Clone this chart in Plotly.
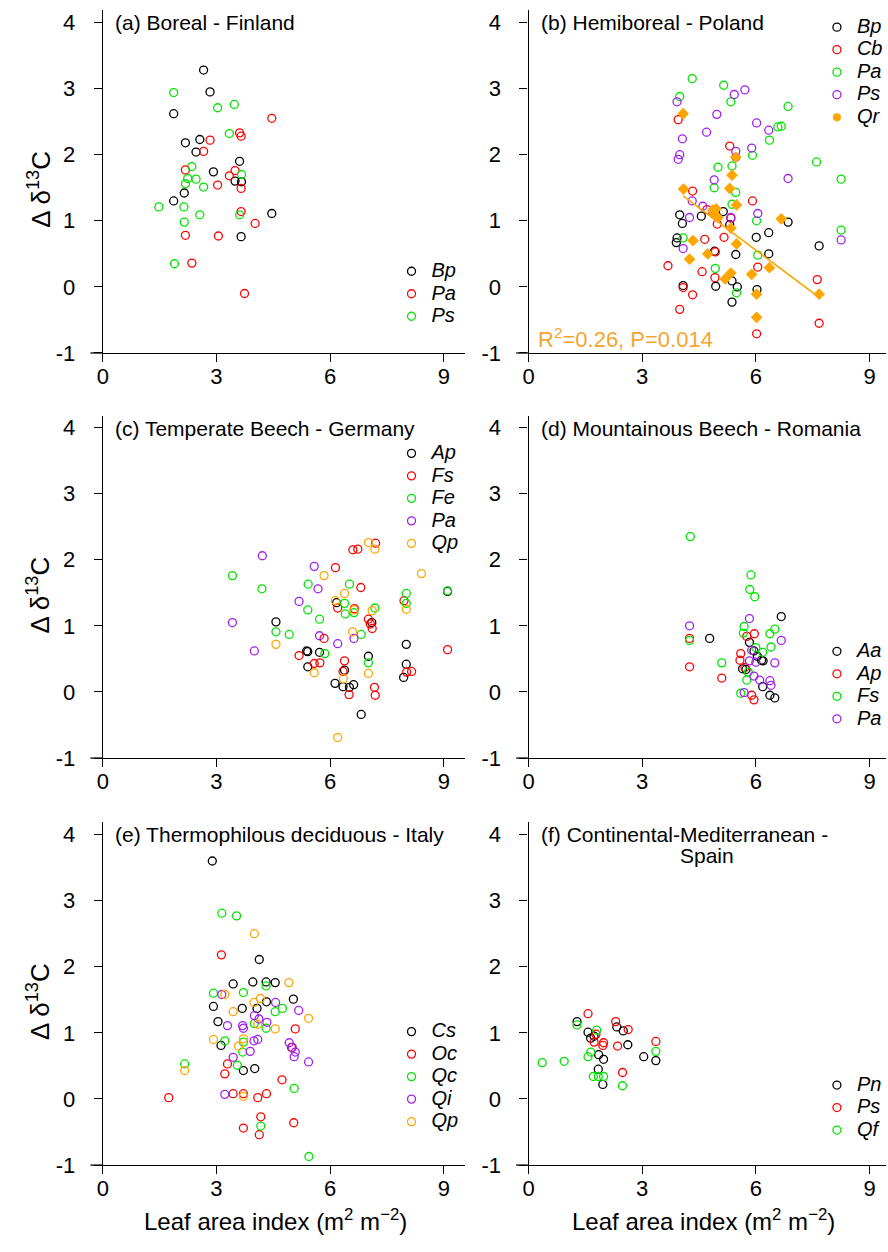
import numpy as np
import plotly.graph_objects as go

W, H = 888, 1252
FONT = "Liberation Sans, Arial, sans-serif"

BLACK = "#000000"
RED = "#FF0000"
GREEN = "#00E400"
PURPLE = "#A020F0"
ORANGE = "#FFA500"

# ---------------- data ----------------
# (a) Boreal - Finland
a_bp_x = [2.66, 2.83, 1.87, 2.18, 2.56, 2.46, 2.92, 3.61, 3.49, 3.66, 2.15, 1.87, 4.46, 3.65]
a_bp_y = [3.28, 2.95, 2.62, 2.18, 2.23, 2.04, 1.74, 1.90, 1.60, 1.59, 1.42, 1.30, 1.11, 0.76]
a_pa_x = [4.46, 3.61, 3.65, 2.83, 2.66, 2.18, 3.49, 3.34, 3.03, 3.65, 3.65, 4.02, 2.18, 3.05, 2.35, 3.74]
a_pa_y = [2.55, 2.33, 2.28, 2.22, 2.05, 1.77, 1.76, 1.68, 1.54, 1.49, 1.14, 0.96, 0.78, 0.77, 0.36, -0.10]
a_ps_x = [1.87, 3.47, 3.03, 3.34, 2.35, 3.66, 2.46, 2.24, 2.18, 2.66, 1.48, 2.14, 2.56, 3.61, 2.15, 1.89]
a_ps_y = [2.94, 2.76, 2.71, 2.32, 1.82, 1.70, 1.63, 1.64, 1.56, 1.51, 1.21, 1.21, 1.09, 1.09, 0.98, 0.35]

# (b) Hemiboreal - Poland
b_bp_x = [3.99, 4.06, 3.92, 3.90, 4.08, 4.56, 5.14, 5.31, 4.91, 5.47, 6.01, 6.34, 6.34, 6.85, 7.67, 4.94, 5.37, 5.51, 6.03, 5.37]
b_bp_y = [1.09, 0.96, 0.74, 0.67, 0.02, 1.07, 1.14, 0.94, 0.54, 0.49, 0.75, 0.82, 0.50, 0.98, 0.62, 0.01, 0.09, 0.00, -0.04, -0.23]
b_cb_x = [3.95, 5.31, 4.33, 5.91, 4.71, 4.98, 5.16, 4.65, 5.34, 4.93, 3.68, 4.58, 4.92, 6.05, 4.08, 4.33, 3.99, 6.02, 7.62, 7.67]
b_cb_y = [2.53, 2.13, 1.45, 1.30, 1.17, 0.95, 0.75, 0.72, 1.04, 0.53, 0.32, 0.23, 0.14, 0.30, -0.01, -0.12, -0.34, -0.71, 0.11, -0.55]
b_pa_x = [4.32, 3.99, 5.15, 5.34, 6.85, 6.58, 6.67, 6.36, 5.91, 5.00, 5.37, 7.60, 8.25, 4.90, 5.47, 5.37, 6.02, 4.08, 8.25, 6.05, 4.93, 5.49]
b_pa_y = [3.15, 2.88, 3.05, 2.80, 2.73, 2.42, 2.43, 2.22, 1.99, 1.81, 1.83, 1.89, 1.63, 1.50, 1.43, 1.25, 1.00, 0.74, 0.86, 0.48, 0.28, -0.09]
b_ps_x = [3.92, 5.43, 5.71, 4.97, 4.70, 6.02, 6.34, 4.06, 3.99, 3.95, 5.89, 5.47, 5.47, 4.90, 6.85, 4.32, 4.60, 4.25, 5.34, 6.05, 4.08, 8.25]
b_ps_y = [2.80, 2.91, 2.98, 2.61, 2.34, 2.48, 2.37, 2.24, 2.00, 1.93, 2.10, 2.05, 1.96, 1.62, 1.64, 1.30, 1.22, 1.05, 1.05, 1.11, 0.58, 0.71]
b_qr_x = [4.08, 4.09, 5.37, 5.31, 5.49, 5.47, 4.86, 4.95, 4.90, 5.00, 5.34, 5.49, 4.34, 6.67, 4.25, 4.73, 6.36, 5.89, 5.34, 5.19, 6.02, 7.67, 6.02]
b_qr_y = [2.62, 1.48, 1.69, 1.49, 1.24, 1.96, 1.16, 1.18, 1.09, 1.05, 0.89, 0.65, 0.70, 1.03, 0.42, 0.50, 0.29, 0.19, 0.21, 0.12, -0.11, -0.11, -0.46]
b_qr_r2 = 0.26
b_qr_p = 0.014

# (c) Temperate Beech - Germany
c_ap_x = [4.57, 5.41, 5.38, 5.72, 5.41, 6.17, 6.13, 6.38, 6.34, 6.51, 6.62, 7.01, 7.10, 6.82, 8.01, 8.01, 7.94, 9.10]
c_ap_y = [1.06, 0.61, 0.62, 0.60, 0.38, 1.35, 0.13, 0.33, 0.08, 0.07, 0.11, 0.54, 1.05, -0.34, 0.72, 0.42, 0.22, 1.52]
c_fs_x = [6.60, 6.73, 7.20, 6.14, 6.81, 6.20, 6.64, 7.95, 7.01, 7.06, 7.11, 5.84, 5.18, 5.58, 5.73, 6.38, 6.34, 6.50, 7.17, 7.19, 8.02, 8.15, 9.10]
c_fs_y = [2.15, 2.16, 2.25, 1.88, 1.58, 1.27, 1.26, 1.38, 1.10, 1.03, 0.96, 0.81, 0.55, 0.43, 0.44, 0.47, 0.31, -0.04, 0.07, -0.05, 0.30, 0.31, 0.64]
c_fe_x = [3.42, 4.20, 4.57, 4.92, 5.42, 5.41, 5.72, 5.86, 6.51, 6.38, 6.40, 6.63, 7.18, 6.82, 7.01, 8.01, 8.01, 9.10]
c_fe_y = [1.76, 1.56, 0.91, 0.87, 1.63, 1.24, 1.10, 0.58, 1.63, 1.34, 1.18, 1.20, 1.27, 0.87, 0.44, 1.49, 1.34, 1.53]
c_pa_x = [4.21, 3.42, 4.00, 5.58, 5.68, 5.18, 5.72, 6.20, 6.63]
c_pa_y = [2.06, 1.05, 0.62, 1.90, 1.56, 1.37, 0.85, 0.73, 0.81]
c_qp_x = [7.01, 7.18, 5.84, 8.41, 6.38, 6.14, 6.63, 7.11, 8.01, 6.59, 4.57, 5.58, 6.35, 7.01, 6.20]
c_qp_y = [2.26, 2.16, 1.76, 1.79, 1.49, 1.38, 1.24, 1.23, 1.25, 0.91, 0.72, 0.29, 0.20, 0.28, -0.69]

# (d) Mountainous Beech - Romania
d_aa_x = [4.78, 6.67, 5.83, 5.95, 6.04, 6.15, 6.19, 5.65, 5.74, 6.18, 6.37, 6.50]
d_aa_y = [0.81, 1.14, 0.75, 0.62, 0.54, 0.48, 0.47, 0.35, 0.34, 0.08, -0.05, -0.09]
d_ap_x = [4.25, 4.25, 5.10, 5.96, 5.76, 5.60, 5.58, 5.71, 5.89, 5.95]
d_ap_y = [0.81, 0.38, 0.21, 0.88, 0.84, 0.58, 0.48, 0.37, -0.05, -0.12]
d_fs_x = [4.27, 5.87, 5.84, 5.97, 5.69, 5.67, 6.50, 6.37, 6.40, 6.00, 6.18, 4.25, 5.10, 5.80, 5.76, 5.60]
d_fs_y = [2.35, 1.77, 1.55, 1.44, 0.99, 0.89, 0.95, 0.88, 0.68, 0.67, 0.60, 0.78, 0.44, 0.30, 0.18, -0.02]
d_pa_x = [4.25, 5.83, 6.67, 5.89, 5.83, 6.00, 6.50, 5.95, 6.10, 6.37, 6.40, 5.69]
d_pa_y = [1.00, 1.11, 0.78, 0.63, 0.47, 0.45, 0.44, 0.24, 0.18, 0.17, 0.10, -0.01]

# (e) Thermophilous deciduous - Italy
e_cs_x = [2.89, 3.44, 3.96, 4.31, 4.55, 2.92, 3.68, 4.07, 4.32, 5.03, 4.13, 3.04, 3.12, 3.71, 4.01]
e_cs_y = [3.60, 1.74, 1.77, 1.77, 1.76, 1.40, 1.37, 1.37, 1.47, 1.51, 2.11, 1.17, 0.81, 0.43, 0.46]
e_oc_x = [3.13, 1.74, 3.29, 3.22, 3.44, 3.71, 4.09, 4.32, 4.17, 3.71, 4.13, 5.04, 5.08, 4.98, 4.73]
e_oc_y = [2.18, 0.02, 0.53, 0.38, 0.08, 0.08, 0.02, 0.08, -0.27, -0.44, -0.54, -0.36, 1.06, 0.78, 0.29]
e_qc_x = [3.14, 3.53, 2.92, 3.71, 4.31, 4.74, 4.55, 4.31, 4.00, 3.22, 3.71, 3.69, 3.55, 2.16, 5.05, 4.17, 5.44]
e_qc_y = [2.81, 2.77, 1.60, 1.61, 1.71, 1.37, 1.32, 1.07, 1.14, 0.88, 0.86, 0.71, 0.51, 0.53, 0.16, -0.41, -0.87]
e_qi_x = [3.14, 3.29, 3.69, 3.71, 4.00, 4.12, 4.33, 3.99, 4.09, 3.89, 3.44, 4.56, 5.17, 4.92, 5.00, 5.08, 5.05, 5.43, 3.22]
e_qi_y = [1.58, 1.11, 1.11, 1.07, 1.26, 1.21, 1.16, 0.88, 0.90, 0.72, 0.63, 1.46, 1.34, 0.85, 0.78, 0.71, 0.64, 0.56, 0.07]
e_qp_x = [4.00, 4.91, 3.22, 4.16, 3.99, 3.44, 5.43, 4.55, 4.09, 2.92, 3.71, 3.58, 2.16, 3.71]
e_qp_y = [2.50, 1.76, 1.58, 1.52, 1.46, 1.32, 1.22, 1.06, 1.13, 0.90, 0.91, 0.80, 0.43, 0.04]

# (f) Continental-Mediterranean - Spain
f_pn_x = [1.28, 1.57, 1.73, 1.64, 2.33, 2.50, 2.62, 1.85, 1.98, 3.04, 3.36, 1.84, 1.96]
f_pn_y = [1.17, 1.01, 0.95, 0.92, 1.09, 1.03, 0.82, 0.67, 0.60, 0.64, 0.58, 0.45, 0.22]
f_ps_x = [1.57, 2.30, 2.63, 1.78, 1.73, 1.98, 1.96, 2.35, 3.36, 2.48]
f_ps_y = [1.29, 1.17, 1.05, 0.98, 0.86, 0.85, 0.81, 0.80, 0.87, 0.40]
f_qf_x = [0.36, 0.94, 1.28, 1.80, 1.64, 1.57, 3.36, 1.71, 1.98, 1.84, 2.48]
f_qf_y = [0.55, 0.57, 1.12, 1.04, 0.71, 0.64, 0.72, 0.34, 0.34, 0.34, 0.20]

x_ticks = [0, 3, 6, 9]
x_tick_labels = ["0", "3", "6", "9"]
y_ticks = [-1, 0, 1, 2, 3, 4]
y_tick_labels = ["-1", "0", "1", "2", "3", "4"]

panel_titles = ["(a) Boreal - Finland", "(b) Hemiboreal - Poland",
                "(c) Temperate Beech - Germany", "(d) Mountainous Beech - Romania",
                "(e) Thermophilous deciduous - Italy", "(f) Continental-Mediterranean -"]
panel_title_line2 = "Spain"
y_title = "\u0394 \u03b4<sup>13</sup>C"
x_title = "Leaf area index (m<sup>2</sup> m<sup>\u22122</sup>)"

panels = [
    [("Bp", a_bp_x, a_bp_y, BLACK), ("Pa", a_pa_x, a_pa_y, RED), ("Ps", a_ps_x, a_ps_y, GREEN)],
    [("Bp", b_bp_x, b_bp_y, BLACK), ("Cb", b_cb_x, b_cb_y, RED), ("Pa", b_pa_x, b_pa_y, GREEN),
     ("Ps", b_ps_x, b_ps_y, PURPLE), ("Qr", b_qr_x, b_qr_y, ORANGE)],
    [("Ap", c_ap_x, c_ap_y, BLACK), ("Fs", c_fs_x, c_fs_y, RED), ("Fe", c_fe_x, c_fe_y, GREEN),
     ("Pa", c_pa_x, c_pa_y, PURPLE), ("Qp", c_qp_x, c_qp_y, ORANGE)],
    [("Aa", d_aa_x, d_aa_y, BLACK), ("Ap", d_ap_x, d_ap_y, RED), ("Fs", d_fs_x, d_fs_y, GREEN),
     ("Pa", d_pa_x, d_pa_y, PURPLE)],
    [("Cs", e_cs_x, e_cs_y, BLACK), ("Oc", e_oc_x, e_oc_y, RED), ("Qc", e_qc_x, e_qc_y, GREEN),
     ("Qi", e_qi_x, e_qi_y, PURPLE), ("Qp", e_qp_x, e_qp_y, ORANGE)],
    [("Pn", f_pn_x, f_pn_y, BLACK), ("Ps", f_ps_x, f_ps_y, RED), ("Qf", f_qf_x, f_qf_y, GREEN)],
]

# ---------------- geometry (pixels) ----------------
COLS = [(97.7, 463.0), (527.3, 888.0)]
ROWS = [(10.0, 356.7), (420.0, 766.0), (830.7, 1177.3)]
PX_PER_X = 38.23
PX_PER_Y = 66.8
LEG_FIRST = [271.7, 25.0, 455.7, 655.7, 1040.0, 1094.0]   # centre of first legend row
LEG_SYMBOL_X = [409.0, 838.3]

fig = go.Figure()
layout = dict(width=W, height=H, margin=dict(l=0, r=0, t=0, b=0),
              paper_bgcolor="white", plot_bgcolor="white",
              font=dict(family=FONT, color="black"), shapes=[], annotations=[])

axis_common = dict(showgrid=False, zeroline=False, showline=True, linecolor="black",
                   linewidth=1.3, ticks="outside", ticklen=8, tickwidth=1.3,
                   tickcolor="black", tickfont=dict(family=FONT, size=22, color="black"),
                   fixedrange=True)


def legend_label(name):
    return f"<span style='font-size:20px'><i>{name}</i></span>"


for i, series in enumerate(panels):
    n = i + 1
    r, c = divmod(i, 2)
    x0p, x1p = COLS[c]
    top, bot = ROWS[r]
    xa = "xaxis" if n == 1 else f"xaxis{n}"
    ya = "yaxis" if n == 1 else f"yaxis{n}"
    xr = "x" if n == 1 else f"x{n}"
    yr = "y" if n == 1 else f"y{n}"
    lg = "legend" if n == 1 else f"legend{n}"
    layout[xa] = dict(axis_common, domain=[x0p / W, x1p / W],
                      range=[0, (x1p - x0p) / PX_PER_X], anchor=yr,
                      tickvals=x_ticks, ticktext=x_tick_labels, ticklabelstandoff=-5)
    layout[ya] = dict(axis_common, domain=[1 - bot / H, 1 - top / H],
                      range=[-1, -1 + (bot - top) / PX_PER_Y], anchor=xr,
                      tickvals=y_ticks, ticktext=y_tick_labels, ticklabelstandoff=14)
    for name, xs, ys, col in series:
        filled = (n == 2 and name == "Qr")
        fig.add_trace(go.Scatter(
            x=xs, y=ys, mode="markers", xaxis=xr, yaxis=yr, legend=lg,
            name=legend_label(name), showlegend=not filled,
            marker=dict(symbol="diamond" if filled else "circle-open",
                        size=9 if filled else 8, color=col,
                        line=dict(width=0 if filled else 1.3, color=col)),
            cliponaxis=False))
        if filled:
            # legend key for the filled series is a filled dot, as in the original
            fig.add_trace(go.Scatter(
                x=[None], y=[None], mode="markers", xaxis=xr, yaxis=yr, legend=lg,
                name=legend_label(name),
                marker=dict(symbol="circle", size=8, color=col)))
    layout[lg] = dict(x=(LEG_SYMBOL_X[c] - 20) / W, y=1 - (LEG_FIRST[i] - 14) / H,
                      xanchor="left", yanchor="top", bgcolor="rgba(0,0,0,0)",
                      borderwidth=0, font=dict(family=FONT, size=15, color="black"),
                      itemwidth=30, tracegroupgap=0, traceorder="normal")
    # x-axis line extends a little to the left of the y axis
    layout["shapes"].append(dict(type="line", xref="paper", yref="paper",
                                 x0=(x0p - 12.5) / W, x1=x0p / W,
                                 y0=1 - bot / H, y1=1 - bot / H,
                                 line=dict(color="black", width=1.3)))
    layout["annotations"].append(dict(
        text=panel_titles[i], xref="paper", yref="paper",
        x=(x0p + 10.5) / W, y=1 - (top + 12.7) / H, xanchor="left", yanchor="middle",
        showarrow=False, font=dict(family=FONT, size=21, color="black")))
    if c == 0:
        layout["annotations"].append(dict(
            text=y_title, xref="paper", yref="paper", textangle=-90,
            x=33 / W, y=1 - (top + 181) / H, xanchor="center", yanchor="middle",
            showarrow=False, font=dict(family=FONT, size=26, color="black")))
    if r == 2:
        layout["annotations"].append(dict(
            text=x_title, xref="paper", yref="paper",
            x=(272 if c == 0 else 704) / W, y=1 - 1233 / H,
            xanchor="center", yanchor="middle", showarrow=False,
            font=dict(family=FONT, size=24, color="black")))

# second line of the (f) title
layout["annotations"].append(dict(
    text=panel_title_line2, xref="paper", yref="paper", x=707.3 / W, y=1 - 864 / H,
    xanchor="center", yanchor="middle", showarrow=False,
    font=dict(family=FONT, size=21, color="black")))

# Qr linear regression (panel b)
coef = np.polyfit(b_qr_x, b_qr_y, 1)
line_x = np.array([min(b_qr_x), max(b_qr_x)])
line_y = np.polyval(coef, line_x)
fig.add_trace(go.Scatter(x=line_x, y=line_y, mode="lines", xaxis="x2", yaxis="y2",
                         line=dict(color=ORANGE, width=1.6), showlegend=False))
layout["annotations"].append(dict(
    text=f"R<sup>2</sup>={b_qr_r2:.2f}, P={b_qr_p:.3f}", xref="paper", yref="paper",
    x=535 / W, y=1 - 341.7 / H, xanchor="left", yanchor="middle", showarrow=False,
    font=dict(family=FONT, size=22, color="#F2A632")))

fig.update_layout(**layout)
fig.write_html("out.html")
